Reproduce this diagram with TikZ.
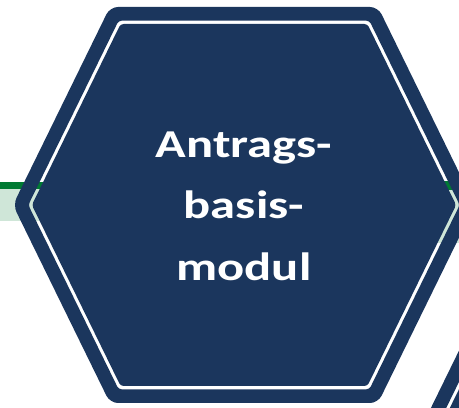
\documentclass[tikz,border=0pt]{standalone}
\usepackage{fontspec}
\setmainfont{Carlito}
\definecolor{navy}{RGB}{27,54,93}
\definecolor{dgreen}{RGB}{0,122,51}
\definecolor{lgreen}{RGB}{207,230,216}
% hexagon path: center (#1,#2), half width #3, half height #4, half top length #5
\newcommand\hexp[5]{(#1-#3,#2) -- (#1-#5,#2+#4) -- (#1+#5,#2+#4) -- (#1+#3,#2) -- (#1+#5,#2-#4) -- (#1-#5,#2-#4) -- cycle}
\begin{document}
\begin{tikzpicture}[x=1pt,y=1pt,
  band/.style={fill=lgreen},
  bandline/.style={fill=dgreen},
  hexring/.style={fill=navy,even odd rule},
  hexcore/.style={fill=navy},
  lbl/.style={text=white,align=center,font=\fontsize{39.5pt}{62pt}\selectfont\bfseries,xscale=1.28,transform shape}]
\useasboundingbox (0,0) rectangle (459,408);
% green bands behind
\fill[band] (0,187) rectangle (110,219);
\fill[bandline] (0,219) rectangle (110,226);
\fill[band] (400,165) rectangle (459,218);
\fill[bandline] (400,218) rectangle (459,227);
% main hexagon: ring + core
\fill[hexring] [rounded corners=8pt] \hexp{244}{203}{231}{198}{134}
  [rounded corners=3pt] \hexp{244}{203}{215.7}{184.3}{125.4};
\fill[hexcore] [rounded corners=3pt] \hexp{244}{203}{212.1}{181}{123.4};
% neighbouring hexagon (lower right)
\fill[hexring] [rounded corners=8pt] \hexp{657}{-10}{231}{198}{134}
  [rounded corners=3pt] \hexp{657}{-10}{215.7}{184.3}{125.4};
\fill[hexcore] [rounded corners=3pt] \hexp{657}{-10}{212.1}{181}{123.4};
\node[lbl,anchor=base] (title) at (244,127) {Antrags-\\basis-\\modul};
\end{tikzpicture}
\end{document}
